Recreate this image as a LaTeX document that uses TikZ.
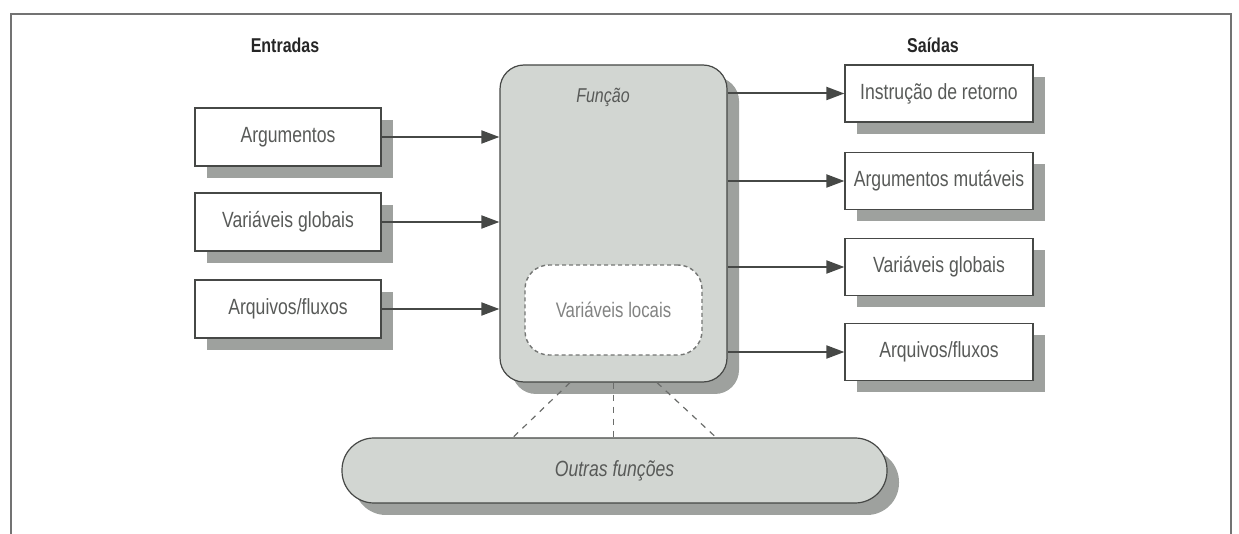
\documentclass[tikz,border=0pt]{standalone}
\usepackage{fontspec}
\setmainfont{Liberation Sans}[FakeStretch=0.8]
\usetikzlibrary{shadows,arrows.meta,calc}
\definecolor{fngray}{RGB}{210,214,210}
\definecolor{txtgray}{RGB}{88,90,88}
\definecolor{linegray}{RGB}{70,72,70}
\definecolor{shadegray}{RGB}{158,161,158}

\begin{document}
\begin{tikzpicture}[x=0.5pt,y=-0.5pt,
	sombra/.style={drop shadow={shadow xshift=6pt,shadow yshift=-6pt,fill=shadegray,opacity=1}},
	caixa/.style={draw=linegray,fill=white,line width=0.6pt,minimum width=93pt,minimum height=29pt,
		text=txtgray,font=\fontsize{11}{13}\selectfont,sombra},
	titulo/.style={text=black!85,font=\bfseries\fontsize{10}{12}\selectfont},
	seta/.style={draw=linegray,line width=1pt,-{Triangle[length=9pt,width=6.5pt]}},
	pontilhado/.style={draw=linegray!80,dashed,line width=0.6pt}]
				\useasboundingbox (0,0) rectangle (1239,534);
				\draw [draw=black!55,line width=1pt] (11,534)--(11,14)--(1231,14)--(1231,534);

				\node [titulo] (entradas) at (285,45) {Entradas};
				\node [titulo] (saidas) at (933,45) {Saídas};

				% entradas
				\node [caixa] (arg) at (288,137) {Argumentos};
				\node [caixa] (vglob) at (288,222) {Variáveis globais};
				\node [caixa] (arq) at (288,309) {Arquivos/fluxos};

				% funcao
				\node [draw=linegray,fill=fngray,line width=0.6pt,rounded corners=12pt,
					minimum width=113.5pt,minimum height=158.5pt,sombra] (fn) at (613.5,223.5) {};
				\node [text=txtgray,font=\itshape\fontsize{10}{12}\selectfont] (fnlabel) at (603,97) {Função};
				\node [draw=linegray!75,fill=white,dash pattern=on 2pt off 1.5pt,line width=0.7pt,
					rounded corners=12pt,minimum width=88.5pt,minimum height=45pt,
					text=txtgray!75,font=\fontsize{10.5}{12}\selectfont] (locais) at (613.5,310) {Variáveis locais};

				% saidas
				\node [caixa,minimum width=94pt,minimum height=28.5pt] (ret) at (939,93.5) {Instrução de retorno};
				\node [caixa,minimum width=94pt,minimum height=28.5pt] (mut) at (939,181) {Argumentos mutáveis};
				\node [caixa,minimum width=94pt,minimum height=28.5pt] (sglob) at (939,267) {Variáveis globais};
				\node [caixa,minimum width=94pt,minimum height=28.5pt] (sarq) at (939,352) {Arquivos/fluxos};

				\node [draw=linegray,fill=fngray,line width=0.6pt,rounded corners=16pt,
					minimum width=272.5pt,minimum height=32.5pt,sombra,
					text=txtgray,font=\itshape\fontsize{11}{13}\selectfont] (outras) at (614.5,470.5) {Outras funções};

				\draw [seta] (arg.east)--(arg.east -| fn.west);
				\draw [seta] (vglob.east)--(vglob.east -| fn.west);
				\draw [seta] (arq.east)--(arq.east -| fn.west);

				\draw [seta] (fn.east |- ret.west)--(ret.west);
				\draw [seta] (fn.east |- mut.west)--(mut.west);
				\draw [seta] (fn.east |- sglob.west)--(sglob.west);
				\draw [seta] (fn.east |- sarq.west)--(sarq.west);

				\draw [pontilhado] ($(fn.south)+(-43.5,0)$)--($(outras.north)+(-101.5,0)$);
				\draw [pontilhado] (fn.south)--(fn.south |- outras.north);
				\draw [pontilhado] ($(fn.south)+(43.5,0)$)--($(outras.north)+(101.5,0)$);

			\end{tikzpicture}
\end{document}
